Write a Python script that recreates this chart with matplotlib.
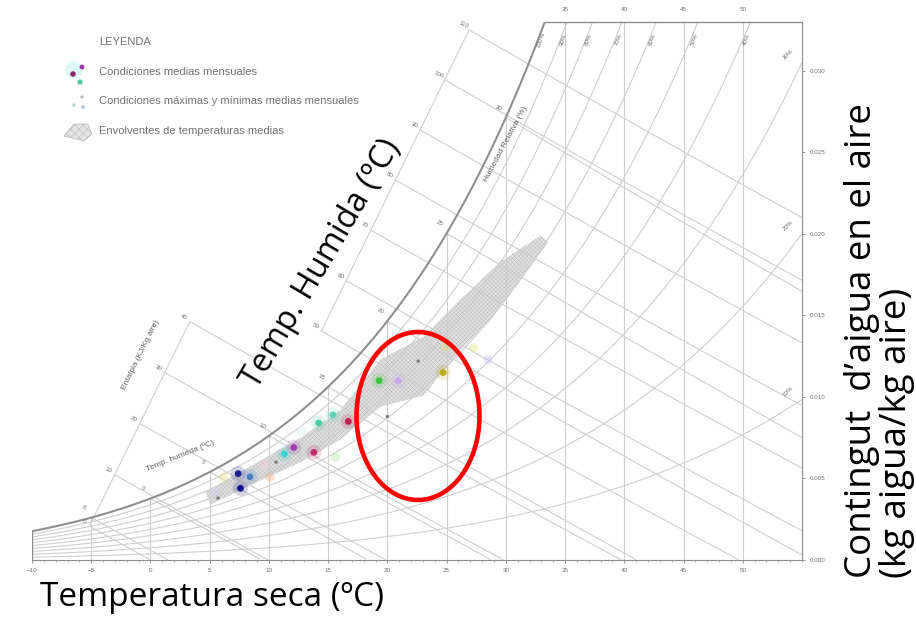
import numpy as np
import matplotlib.pyplot as plt
from matplotlib.patches import Polygon, Ellipse

plt.rcParams['hatch.linewidth'] = 0.35
plt.rcParams['font.family'] = ['Liberation Sans', 'DejaVu Sans']

# condiciones medias mensuales (temp seca ºC, kg agua/kg aire)
mes_t = [7.4, 7.6, 8.4, 11.3, 12.1, 13.8, 14.2, 15.4, 16.7, 19.3, 20.9, 24.7]
mes_w = [0.0053, 0.0044, 0.0051, 0.0065, 0.0069, 0.0066, 0.0084, 0.0089, 0.0085, 0.0110, 0.0110, 0.0115]
mes_c = ['#1c1c8a', '#14148a', '#4d7fc4', '#3fd2d2', '#a23cb4', '#c2306c',
         '#4fc8a6', '#62d2ba', '#c01e50', '#3fc43f', '#c8a8ea', '#b8ae1e']

# condiciones maximas y minimas (puntos tenues)
ext_t = [24.9, 27.3, 6.2, 10.1, 15.6, 28.5, 5.4, 9.6, 17.8, 12.8]
ext_w = [0.0131, 0.0130, 0.0051, 0.0051, 0.0063, 0.0123, 0.0042, 0.0058, 0.0075, 0.0079]
ext_c = ['#e2e070', '#dde27a', '#e8e090', '#f0b080', '#b8e8a0', '#c8c0f0',
         '#d0d0f8', '#f0d0e0', '#f0c8d8', '#d8f0f0']
# marcas grises pequeñas dentro de la envolvente
gris_t = [20.0, 22.6, 10.6, 5.7]
gris_w = [0.0088, 0.0122, 0.0060, 0.0038]

# envolvente de temperaturas medias
env_t = [4.65, 9.04, 12.67, 16.05, 19.43, 23.06, 26.18, 29.56, 32.94,
         33.6, 31.25, 28.7, 26.18, 23.06, 19.43, 16.05, 12.67, 9.04, 5.07]
env_w = [0.0042, 0.0060, 0.0075, 0.0092, 0.0123, 0.0137, 0.0160, 0.0183, 0.0199,
         0.0195, 0.0172, 0.0147, 0.0129, 0.0101, 0.0094, 0.0074, 0.0060, 0.0048, 0.0034]

t_ticks = list(range(-10, 55, 5))
w_ticks = [0.000, 0.005, 0.010, 0.015, 0.020, 0.025, 0.030]
w_labels = ['0.000', '0.005', '0.010', '0.015', '0.020', '0.025', '0.030']
rh_levels = [0.1, 0.2, 0.3, 0.4, 0.5, 0.6, 0.7, 0.8, 0.9]
h_levels = list(range(0, 120, 10))
twb_levels = list(range(-5, 35, 5))

T0, T1, WTOP = -10, 55, 0.033
P = 101.325
GRID = '#cfcfcf'
DARK = '#8f8f8f'
TXT = '#707070'


def w_rh(t, rh=1.0):
    ps = 0.61094 * np.exp(17.625 * t / (t + 243.04))
    pv = rh * ps
    return 0.622 * pv / (P - pv)


def w_h(t, h):
    return (h - 1.006 * t) / (2501 + 1.86 * t)


fig = plt.figure(figsize=(9.16, 6.23), dpi=100)
ax = fig.add_axes([32 / 916, 63 / 623, 770 / 916, 538 / 623])
ax.set_xlim(T0, T1)
ax.set_ylim(0, WTOP)

tt = np.linspace(T0, T1, 600)

# humedad relativa
for rh in rh_levels:
    ax.plot(tt, w_rh(tt, rh), color=GRID, lw=0.8, zorder=1)
ax.plot(tt, w_rh(tt), color=DARK, lw=1.5, zorder=2)
t_top = np.interp(WTOP, w_rh(tt), tt)

# temperatura seca
for t in t_ticks[1:]:
    ax.plot([t, t], [0, min(w_rh(t), WTOP)], color=GRID, lw=0.8, zorder=1)
ax.plot([T0, T0], [0, w_rh(T0)], color=DARK, lw=1.0)
ax.plot([t_top, T1], [WTOP, WTOP], color=DARK, lw=1.0, clip_on=False)

# temperatura humeda
for twb in twb_levels:
    ws = w_rh(twb)
    tl = np.linspace(twb, T1, 300)
    wl = ((2501 - 2.326 * twb) * ws - 1.006 * (tl - twb)) / (2501 + 1.86 * tl - 4.186 * twb)
    ok = wl >= 0
    ax.plot(tl[ok], wl[ok], color=GRID, lw=0.8, zorder=1)
    ax.text(twb - 0.6, ws + 0.0006, str(twb), fontsize=4.5, color=TXT,
            ha='center', va='center', rotation=-25)

# entalpia, con escala exterior
b = 0.00148
th = np.linspace(-15, 45, 6001)
scale_pts = []
for h in h_levels:
    a = 0.0097 if h <= 40 else -0.0073
    i = np.argmin(np.abs(w_h(th, h) - (a + b * th)))
    ts = th[i]
    scale_pts.append((ts, w_h(ts, h)))
    tl = np.linspace(ts, T1, 400)
    wl = w_h(tl, h)
    ok = wl >= 0
    ax.plot(tl[ok], wl[ok], color=GRID, lw=0.8, zorder=1)
    ax.text(ts - 0.5, w_h(ts, h) + 0.0003, str(h), fontsize=4.5, color=TXT,
            ha='center', va='center', rotation=-25)
sp = np.array(scale_pts)
ax.plot(sp[:5, 0], sp[:5, 1], color=GRID, lw=0.8, zorder=1)
ax.plot(sp[5:, 0], sp[5:, 1], color=GRID, lw=0.8, zorder=1)

# etiquetas humedad relativa
for rh in rh_levels:
    wr = w_rh(tt, rh)
    if wr[-1] > WTOP:
        tx = np.interp(WTOP, wr, tt)
        ax.text(tx - 0.3, WTOP - 0.0011, '%d%%' % int(rh * 100), fontsize=4.5,
                color=TXT, rotation=70, ha='center', va='center')
    else:
        ax.text(T1 - 1.2, w_rh(T1, rh) + 0.0005, '%d%%' % int(rh * 100), fontsize=4.5,
                color=TXT, rotation=45, ha='center', va='center')
ax.text(t_top - 0.3, WTOP - 0.0011, '100%', fontsize=4.5, color=TXT, rotation=70,
        ha='center', va='center')

ax.text(30.0, 0.0255, 'Humedad Relativa (%)', fontsize=6, color='#606060',
        rotation=62, ha='center', va='center')
ax.text(-0.85, 0.0126, 'Entalpia (KJ/Kg aire)', fontsize=6, color='#606060',
        rotation=64, ha='center', va='center')
ax.text(2.5, 0.0064, 'Temp. humeda (ºC)', fontsize=6, color='#606060',
        rotation=22, ha='center', va='center')

# envolvente
env = Polygon(np.column_stack([env_t, env_w]), closed=True, facecolor='#dadada',
              edgecolor='#b8b8b8', hatch='xxxxxxxx', lw=0, alpha=0.8, zorder=3)
ax.add_patch(env)

# puntos
ax.scatter(ext_t, ext_w, s=45, c=ext_c, alpha=0.4, edgecolors='none', zorder=4)
ax.scatter(gris_t, gris_w, s=6, c='#7a7a7a', edgecolors='none', zorder=4)
ax.scatter(mes_t, mes_w, s=120, c=mes_c, alpha=0.18, edgecolors='none', zorder=4)
ax.scatter(mes_t, mes_w, s=24, c=mes_c, edgecolors='none', zorder=5)

# ejes
for s in ['left', 'top']:
    ax.spines[s].set_visible(False)
ax.spines['bottom'].set_color(DARK)
ax.spines['right'].set_color(DARK)
ax.yaxis.tick_right()
ax.set_xticks(t_ticks)
ax.set_xticks(np.arange(T0, T1 + 1, 1), minor=True)
ax.set_yticks(w_ticks)
ax.set_yticklabels(w_labels)
ax.tick_params(axis='both', labelsize=4.5, colors=TXT, length=2, width=0.5)
ax.tick_params(axis='x', which='minor', length=1.2, width=0.4, colors=TXT)
for t in t_ticks[9:]:
    ax.text(t, WTOP + 0.0006, str(t), fontsize=4.5, color=TXT, ha='center', va='bottom')

# capa de anotaciones
ov = fig.add_axes([0, 0, 1, 1], zorder=5)
ov.set_xlim(0, 916)
ov.set_ylim(623, 0)
ov.axis('off')
ov.patch.set_alpha(0)

lg = dict(fontsize=8, color='#737373', va='center')
ov.text(99, 42, 'LEYENDA', **lg)
ov.text(99, 72, 'Condiciones medias mensuales', **lg)
ov.text(99, 101, 'Condiciones máximas y mínimas medias mensuales', **lg)
ov.text(99, 131, 'Envolventes de temperaturas medias', **lg)
ov.scatter([74], [70], s=160, c='#c8f4f4', alpha=0.6, edgecolors='none', zorder=5)
ov.scatter([73, 82, 80], [74, 67, 82], s=[16, 12, 14], c=['#8a2a6a', '#9a3aa0', '#4fc8a0'],
           edgecolors='none', zorder=6)
ov.scatter([82, 74, 83], [97, 105, 107], s=6, c=['#c0c0c0', '#b8d0c8', '#a8b8e0'],
           edgecolors='none', zorder=6)
ov.add_patch(Polygon([[64, 136], [74, 124], [88, 124], [92, 134], [84, 141]], closed=True,
                     facecolor='#e4e4e4', edgecolor='#b8b8b8', hatch='xxxx', lw=0.5))

ov.add_patch(Ellipse((418, 416), 123, 168, fill=False, edgecolor='#ff0000', lw=3.3))

big = dict(family='Open Sans', color='black')
ov.text(40, 598, 'Temperatura seca (ºC)', ha='left', va='center', fontsize=24, **big)
ov.text(322, 264, 'Temp. Humida (ºC)', ha='center', va='center', rotation=59.5,
        rotation_mode='anchor', fontsize=23.4, **big)
ov.text(862, 578, 'Contingut  d’aigua en el aire', ha='left', va='center', rotation=90,
        rotation_mode='anchor', fontsize=26.5, **big)
ov.text(897, 578, '(kg aigua/kg aire)', ha='left', va='center', rotation=90,
        rotation_mode='anchor', fontsize=26.5, **big)

fig.savefig('out.png', dpi=100)
